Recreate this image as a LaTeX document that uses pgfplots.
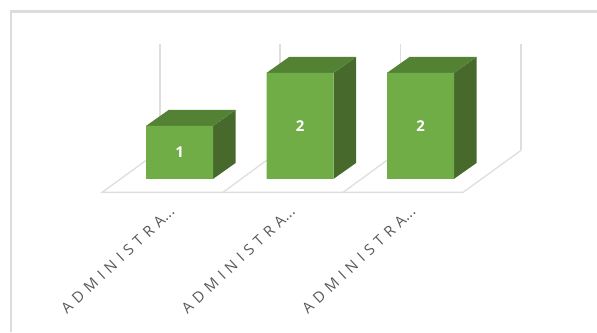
\documentclass[border=0pt]{standalone}
\usepackage{fontspec}
\setmainfont{Open Sans}
\newfontfamily\lab[LetterSpace=35]{Open Sans}
\newfontfamily\labdots{Open Sans}
\newcommand\ed{{\labdots\fontsize{14.7}{16}\selectfont.\kern0.4bp.\kern0.4bp.}}
\usepackage{pgfplots}
\pgfplotsset{compat=1.18}
\definecolor{front}{HTML}{70AD47}
\definecolor{topc}{HTML}{548235}
\definecolor{side}{HTML}{476A2C}
\definecolor{gridc}{HTML}{DEDEDE}
\definecolor{framec}{HTML}{DCDCDC}
\definecolor{labc}{HTML}{595959}
\begin{document}
\begin{tikzpicture}
\begin{axis}[
  scale only axis, width=597bp, height=332bp,
  xmin=-1.491, xmax=3.465, ymin=-2.891, ymax=3.373,
  xtick={0,1,2},
  xticklabels={ADMINISTRA\ed, ADMINISTRA\ed, ADMINISTRA\ed},
  x tick label style={xshift=-11.5bp, yshift=127bp, rotate=43, anchor=north east, inner sep=0pt,
    font=\lab\fontsize{15}{17}\selectfont, text=labc},
  ymajorticks=false,
  major tick length=0pt,
  axis line style={draw=none},
  clip=true,
]
% frame
\addplot[framec, line width=2.3bp, forget plot] coordinates {(-1.400,-2.891) (-1.400,3.160) (3.465,3.160)};
% back walls
\addplot[gridc, line width=1.3bp, forget plot] coordinates {(-0.163,0.538) (-0.163,2.538)};
\addplot[gridc, line width=1.3bp, forget plot] coordinates {(0.834,0.538) (0.834,2.538)};
\addplot[gridc, line width=1.3bp, forget plot] coordinates {(1.834,0.538) (1.834,2.538)};
\addplot[gridc, line width=1.3bp, forget plot] coordinates {(2.834,0.538) (2.834,2.538)};
% floor
\addplot[gridc, line width=1.3bp, forget plot] coordinates {(-0.163,0.538) (-0.644,-0.255) (2.353,-0.255) (2.834,0.538)};
\addplot[gridc, line width=1.3bp, forget plot] coordinates {(0.360,-0.255) (0.834,0.538)};
\addplot[gridc, line width=1.3bp, forget plot] coordinates {(1.357,-0.255) (1.834,0.538)};
% bar 1 depth
\addplot[fill=side, draw=none, forget plot] coordinates {(0.278,0) (0.466,0.302) (0.466,1.302) (0.278,1)} -- cycle;
\addplot[fill=topc, draw=none, forget plot] coordinates {(-0.278,1) (-0.090,1.302) (0.466,1.302) (0.278,1)} -- cycle;
% bar 2 depth
\addplot[fill=side, draw=none, forget plot] coordinates {(1.278,0) (1.466,0.302) (1.466,2.302) (1.278,2)} -- cycle;
\addplot[fill=topc, draw=none, forget plot] coordinates {(0.722,2) (0.910,2.302) (1.466,2.302) (1.278,2)} -- cycle;
% bar 3 depth
\addplot[fill=side, draw=none, forget plot] coordinates {(2.278,0) (2.466,0.302) (2.466,2.302) (2.278,2)} -- cycle;
\addplot[fill=topc, draw=none, forget plot] coordinates {(1.722,2) (1.910,2.302) (2.466,2.302) (2.278,2)} -- cycle;
% fronts
\addplot[ybar, bar shift=0pt, bar width=0.556, fill=front, draw=none] coordinates {(0,1) (1,2) (2,2)};
% value labels
\addplot[draw=none, mark=none, point meta=explicit symbolic,
  nodes near coords={\pgfplotspointmeta},
  every node near coord/.style={anchor=center, inner sep=0pt, text=white, font=\bfseries\fontsize{15}{17}\selectfont}]
  coordinates {(0,0.5)[1] (1,1)[2] (2,1)[2]};
\end{axis}
\end{tikzpicture}
\end{document}
